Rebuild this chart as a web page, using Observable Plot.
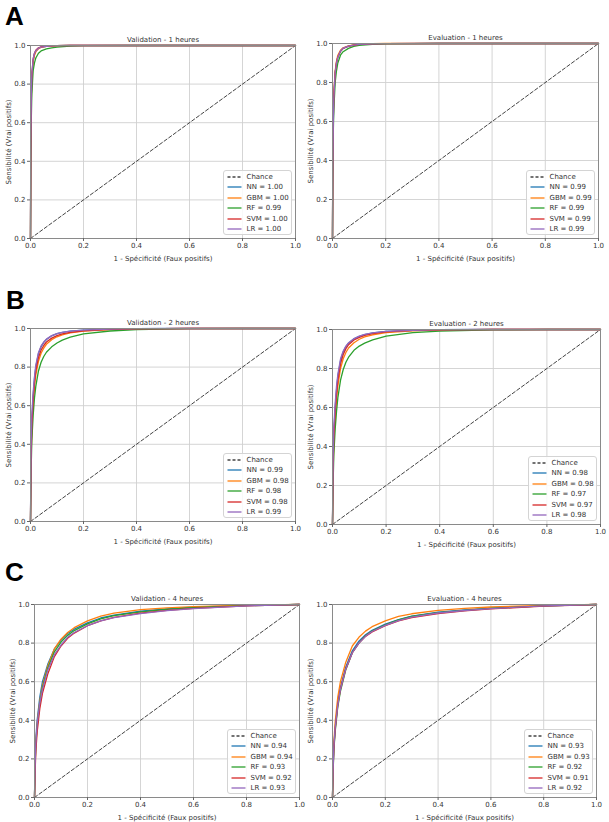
<!DOCTYPE html>
<html><head><meta charset="utf-8">
<script src="https://cdn.jsdelivr.net/npm/d3@7"></script>
<script src="https://cdn.jsdelivr.net/npm/@observablehq/plot@0.6"></script>
<style>
body{margin:0;background:#fff;}
#root{position:relative;width:609px;height:822px;overflow:hidden;background:#fff;font-family:"DejaVu Sans",sans-serif;}
.panel{position:absolute;}
.letter{position:absolute;font-family:"Liberation Sans",Arial,sans-serif;font-weight:bold;font-size:26px;line-height:26px;color:#000;}
.legend{position:absolute;background:rgba(255,255,255,0.85);border:1px solid #d4d4d4;border-radius:3px;box-sizing:border-box;font-size:7px;color:#333;}
.legend .row{position:absolute;left:0;height:10px;line-height:10px;white-space:nowrap;}
.legend svg{position:absolute;left:3px;top:0;}
.legend span{position:absolute;left:23px;top:0;}
</style></head><body><div id="root"></div>
<script>
// ---------- data ----------
const models = ["NN", "GBM", "RF", "SVM", "LR"];
const modelColors = ["#1f77b4", "#ff7f0e", "#2ca02c", "#d62728", "#9467bd"];
const chanceLabel = "Chance";
const chance = [0, 1];
const ticks = [0, 0.2, 0.4, 0.6, 0.8, 1.0];
const panelLetters = ["A", "B", "C"];
const panelTitles = [
  "Validation - 1 heures", "Evaluation - 1 heures",
  "Validation - 2 heures", "Evaluation - 2 heures",
  "Validation - 4 heures", "Evaluation - 4 heures"
];
const xLabel = "1 - Spécificité (Faux positifs)";
const yLabel = "Sensibilité (Vrai positifs)";

// false-positive-rate grids
const fpr1h = [0, 0.001, 0.003, 0.005, 0.01, 0.015, 0.02, 0.03, 0.04, 0.06, 0.08, 0.1, 0.15, 0.2, 0.4, 0.6, 0.8, 1];
const fpr2h = [0, 0.002, 0.005, 0.01, 0.015, 0.02, 0.03, 0.04, 0.05, 0.06, 0.08, 0.1, 0.12, 0.15, 0.2, 0.3, 0.4, 0.6, 0.8, 1];
const fpr4h = [0, 0.002, 0.005, 0.01, 0.02, 0.03, 0.05, 0.075, 0.1, 0.125, 0.15, 0.2, 0.25, 0.3, 0.4, 0.5, 0.6, 0.8, 1];

// true-positive rates, rows in model order NN, GBM, RF, SVM, LR
const tprVal1h = [
  [0, 0.45, 0.72, 0.83, 0.92, 0.955, 0.97, 0.985, 0.992, 0.996, 0.998, 0.999, 1, 1, 1, 1, 1, 1],
  [0, 0.40, 0.70, 0.82, 0.915, 0.95, 0.968, 0.983, 0.99, 0.995, 0.997, 0.999, 1, 1, 1, 1, 1, 1],
  [0, 0.35, 0.62, 0.75, 0.87, 0.91, 0.935, 0.96, 0.972, 0.982, 0.988, 0.992, 0.997, 0.999, 1, 1, 1, 1],
  [0, 0.45, 0.74, 0.85, 0.93, 0.96, 0.975, 0.988, 0.993, 0.997, 0.998, 0.999, 1, 1, 1, 1, 1, 1],
  [0, 0.50, 0.75, 0.85, 0.93, 0.96, 0.973, 0.986, 0.992, 0.996, 0.998, 0.999, 1, 1, 1, 1, 1, 1]
];
const tprEval1h = [
  [0, 0.35, 0.60, 0.72, 0.85, 0.90, 0.93, 0.96, 0.975, 0.987, 0.992, 0.995, 0.998, 0.999, 1, 1, 1, 1],
  [0, 0.35, 0.62, 0.74, 0.86, 0.91, 0.94, 0.965, 0.978, 0.988, 0.993, 0.996, 0.999, 1, 1, 1, 1, 1],
  [0, 0.30, 0.55, 0.66, 0.80, 0.86, 0.90, 0.94, 0.958, 0.975, 0.985, 0.99, 0.996, 0.998, 1, 1, 1, 1],
  [0, 0.38, 0.62, 0.73, 0.85, 0.90, 0.93, 0.96, 0.975, 0.986, 0.991, 0.995, 0.998, 0.999, 1, 1, 1, 1],
  [0, 0.35, 0.60, 0.72, 0.85, 0.90, 0.93, 0.962, 0.976, 0.987, 0.992, 0.995, 0.998, 0.999, 1, 1, 1, 1]
];
const tprVal2h = [
  [0, 0.35, 0.52, 0.65, 0.74, 0.80, 0.87, 0.905, 0.928, 0.943, 0.962, 0.973, 0.98, 0.986, 0.992, 0.997, 0.999, 1, 1, 1],
  [0, 0.30, 0.48, 0.61, 0.70, 0.76, 0.83, 0.872, 0.898, 0.918, 0.942, 0.957, 0.967, 0.977, 0.986, 0.994, 0.998, 1, 1, 1],
  [0, 0.25, 0.42, 0.55, 0.64, 0.70, 0.78, 0.825, 0.855, 0.877, 0.905, 0.925, 0.94, 0.955, 0.972, 0.987, 0.994, 0.999, 1, 1],
  [0, 0.32, 0.50, 0.63, 0.72, 0.78, 0.85, 0.888, 0.912, 0.93, 0.95, 0.963, 0.972, 0.98, 0.988, 0.995, 0.998, 1, 1, 1],
  [0, 0.38, 0.55, 0.67, 0.75, 0.81, 0.875, 0.91, 0.93, 0.945, 0.963, 0.973, 0.98, 0.986, 0.992, 0.997, 0.999, 1, 1, 1]
];
const tprEval2h = [
  [0, 0.30, 0.47, 0.60, 0.69, 0.76, 0.84, 0.885, 0.912, 0.93, 0.952, 0.965, 0.974, 0.982, 0.99, 0.996, 0.999, 1, 1, 1],
  [0, 0.25, 0.42, 0.55, 0.64, 0.71, 0.80, 0.85, 0.882, 0.905, 0.932, 0.95, 0.962, 0.973, 0.984, 0.993, 0.997, 1, 1, 1],
  [0, 0.20, 0.36, 0.49, 0.58, 0.65, 0.74, 0.795, 0.832, 0.858, 0.893, 0.915, 0.93, 0.947, 0.966, 0.984, 0.992, 0.998, 1, 1],
  [0, 0.28, 0.45, 0.58, 0.67, 0.74, 0.825, 0.872, 0.902, 0.922, 0.946, 0.96, 0.97, 0.979, 0.988, 0.995, 0.998, 1, 1, 1],
  [0, 0.32, 0.50, 0.62, 0.71, 0.77, 0.85, 0.89, 0.915, 0.932, 0.953, 0.966, 0.975, 0.983, 0.99, 0.996, 0.999, 1, 1, 1]
];
const tprVal4h = [
  [0, 0.18, 0.30, 0.40, 0.52, 0.60, 0.69, 0.77, 0.815, 0.85, 0.872, 0.905, 0.93, 0.945, 0.965, 0.977, 0.986, 0.995, 1],
  [0, 0.15, 0.28, 0.38, 0.50, 0.58, 0.68, 0.77, 0.82, 0.855, 0.88, 0.915, 0.94, 0.955, 0.973, 0.982, 0.989, 0.996, 1],
  [0, 0.15, 0.27, 0.37, 0.49, 0.57, 0.67, 0.755, 0.805, 0.84, 0.865, 0.90, 0.925, 0.942, 0.962, 0.975, 0.984, 0.994, 1],
  [0, 0.12, 0.24, 0.34, 0.46, 0.54, 0.64, 0.73, 0.785, 0.825, 0.852, 0.89, 0.915, 0.933, 0.955, 0.97, 0.98, 0.993, 1],
  [0, 0.16, 0.28, 0.38, 0.49, 0.56, 0.66, 0.74, 0.79, 0.83, 0.855, 0.89, 0.915, 0.932, 0.953, 0.968, 0.979, 0.993, 1]
];
const tprEval4h = [
  [0, 0.14, 0.26, 0.36, 0.49, 0.57, 0.675, 0.76, 0.81, 0.843, 0.866, 0.898, 0.922, 0.94, 0.96, 0.972, 0.981, 0.993, 1],
  [0, 0.15, 0.28, 0.39, 0.52, 0.60, 0.70, 0.785, 0.83, 0.862, 0.885, 0.915, 0.938, 0.952, 0.97, 0.98, 0.987, 0.995, 1],
  [0, 0.12, 0.24, 0.34, 0.47, 0.55, 0.66, 0.75, 0.80, 0.838, 0.862, 0.895, 0.92, 0.938, 0.958, 0.97, 0.98, 0.993, 1],
  [0, 0.13, 0.25, 0.35, 0.48, 0.56, 0.665, 0.75, 0.80, 0.835, 0.858, 0.89, 0.915, 0.932, 0.953, 0.967, 0.977, 0.992, 1],
  [0, 0.14, 0.26, 0.36, 0.48, 0.56, 0.665, 0.75, 0.80, 0.835, 0.86, 0.892, 0.917, 0.935, 0.956, 0.969, 0.979, 0.993, 1]
];

// AUC legend values, model order
const aucVal1h = ["1.00", "1.00", "0.99", "1.00", "1.00"];
const aucEval1h = ["0.99", "0.99", "0.99", "0.99", "0.99"];
const aucVal2h = ["0.99", "0.98", "0.98", "0.98", "0.99"];
const aucEval2h = ["0.98", "0.98", "0.97", "0.97", "0.98"];
const aucVal4h = ["0.94", "0.94", "0.93", "0.92", "0.93"];
const aucEval4h = ["0.93", "0.93", "0.92", "0.91", "0.92"];

// ---------- layout (plot frame boxes in page pixels) ----------
const frames = [
  {x0: 30, x1: 295, y0: 45, y1: 238},
  {x0: 332, x1: 598, y0: 43, y1: 238},
  {x0: 30, x1: 295, y0: 328, y1: 521},
  {x0: 332, x1: 600, y0: 329, y1: 524},
  {x0: 34, x1: 299, y0: 604, y1: 797},
  {x0: 332, x1: 596, y0: 604, y1: 797}
];
const letterPos = [{x: 5, y: 3}, {x: 6, y: 287}, {x: 5, y: 559}];

const panelFpr = [fpr1h, fpr1h, fpr2h, fpr2h, fpr4h, fpr4h];
const panelTpr = [tprVal1h, tprEval1h, tprVal2h, tprEval2h, tprVal4h, tprEval4h];
const panelAuc = [aucVal1h, aucEval1h, aucVal2h, aucEval2h, aucVal4h, aucEval4h];

const root = document.getElementById("root");
const M = {l: 32, r: 10, t: 18, b: 30};

panelTitles.forEach((title, i) => {
  const f = frames[i];
  const fpr = panelFpr[i];
  const rows = [];
  panelTpr[i].forEach((tprs, m) => tprs.forEach((t, k) => rows.push({model: models[m], fpr: fpr[k], tpr: t})));
  const W = f.x1 - f.x0 + M.l + M.r;
  const H = f.y1 - f.y0 + M.t + M.b;
  const plot = Plot.plot({
    width: W, height: H,
    marginLeft: M.l, marginRight: M.r, marginTop: M.t, marginBottom: M.b,
    style: {fontFamily: "DejaVu Sans", fontSize: "7px", color: "#333", background: "transparent", overflow: "visible"},
    x: {domain: [0, 1], label: null},
    y: {domain: [0, 1], label: null},
    color: {domain: models, range: modelColors},
    marks: [
      Plot.gridX(ticks, {stroke: "#d0d0d0", strokeOpacity: 1, strokeWidth: 0.9}),
      Plot.gridY(ticks, {stroke: "#d0d0d0", strokeOpacity: 1, strokeWidth: 0.9}),
      Plot.line(chance, {x: d => d, y: d => d, stroke: "#444", strokeWidth: 1, strokeDasharray: "3.5,2.2"}),
      Plot.line(rows, {x: "fpr", y: "tpr", z: "model", stroke: "model", strokeWidth: 1.3}),
      Plot.frame({stroke: "#8a8a8a", strokeWidth: 1}),
      Plot.axisX(ticks, {tickSize: 3, tickPadding: 2, tickFormat: d3.format(".1f"), stroke: "#666", fill: "#333",
        label: xLabel, labelAnchor: "center", labelOffset: 22, labelArrow: "none"}),
      Plot.axisY(ticks, {tickSize: 3, tickPadding: 2, tickFormat: d3.format(".1f"), stroke: "#666", fill: "#333",
        label: yLabel, labelAnchor: "center", labelOffset: 24, labelArrow: "none"}),
      Plot.text([title], {frameAnchor: "top", lineAnchor: "bottom", dy: -4, fill: "#333", fontSize: 7})
    ]
  });
  plot.classList.add("panel");
  plot.style.left = (f.x0 - M.l) + "px";
  plot.style.top = (f.y0 - M.t) + "px";
  root.appendChild(plot);

  // legend (lower right inside frame)
  const lg = document.createElement("div");
  lg.className = "legend";
  const LW = 69, LH = 65;
  lg.style.width = LW + "px"; lg.style.height = LH + "px";
  lg.style.left = (f.x1 - 3.5 - LW) + "px";
  lg.style.top = (f.y1 - 3.5 - LH) + "px";
  const entries = [{label: chanceLabel, color: "#444", dash: "3,2"}].concat(
    models.map((m, j) => ({label: m + " = " + panelAuc[i][j], color: modelColors[j], dash: null})));
  entries.forEach((e, j) => {
    const r = document.createElement("div");
    r.className = "row";
    r.style.top = (1.3 + j * 10.5) + "px";
    r.innerHTML = `<svg width="15" height="10"><line x1="0.5" y1="5" x2="14.5" y2="5" stroke="${e.color}" stroke-width="1.3" ${e.dash ? `stroke-dasharray="${e.dash}"` : ""}/></svg><span>${e.label}</span>`;
    lg.appendChild(r);
  });
  root.appendChild(lg);
});

panelLetters.forEach((L, i) => {
  const d = document.createElement("div");
  d.className = "letter";
  d.textContent = L;
  d.style.left = letterPos[i].x + "px";
  d.style.top = letterPos[i].y + "px";
  root.appendChild(d);
});
</script>
</body></html>
